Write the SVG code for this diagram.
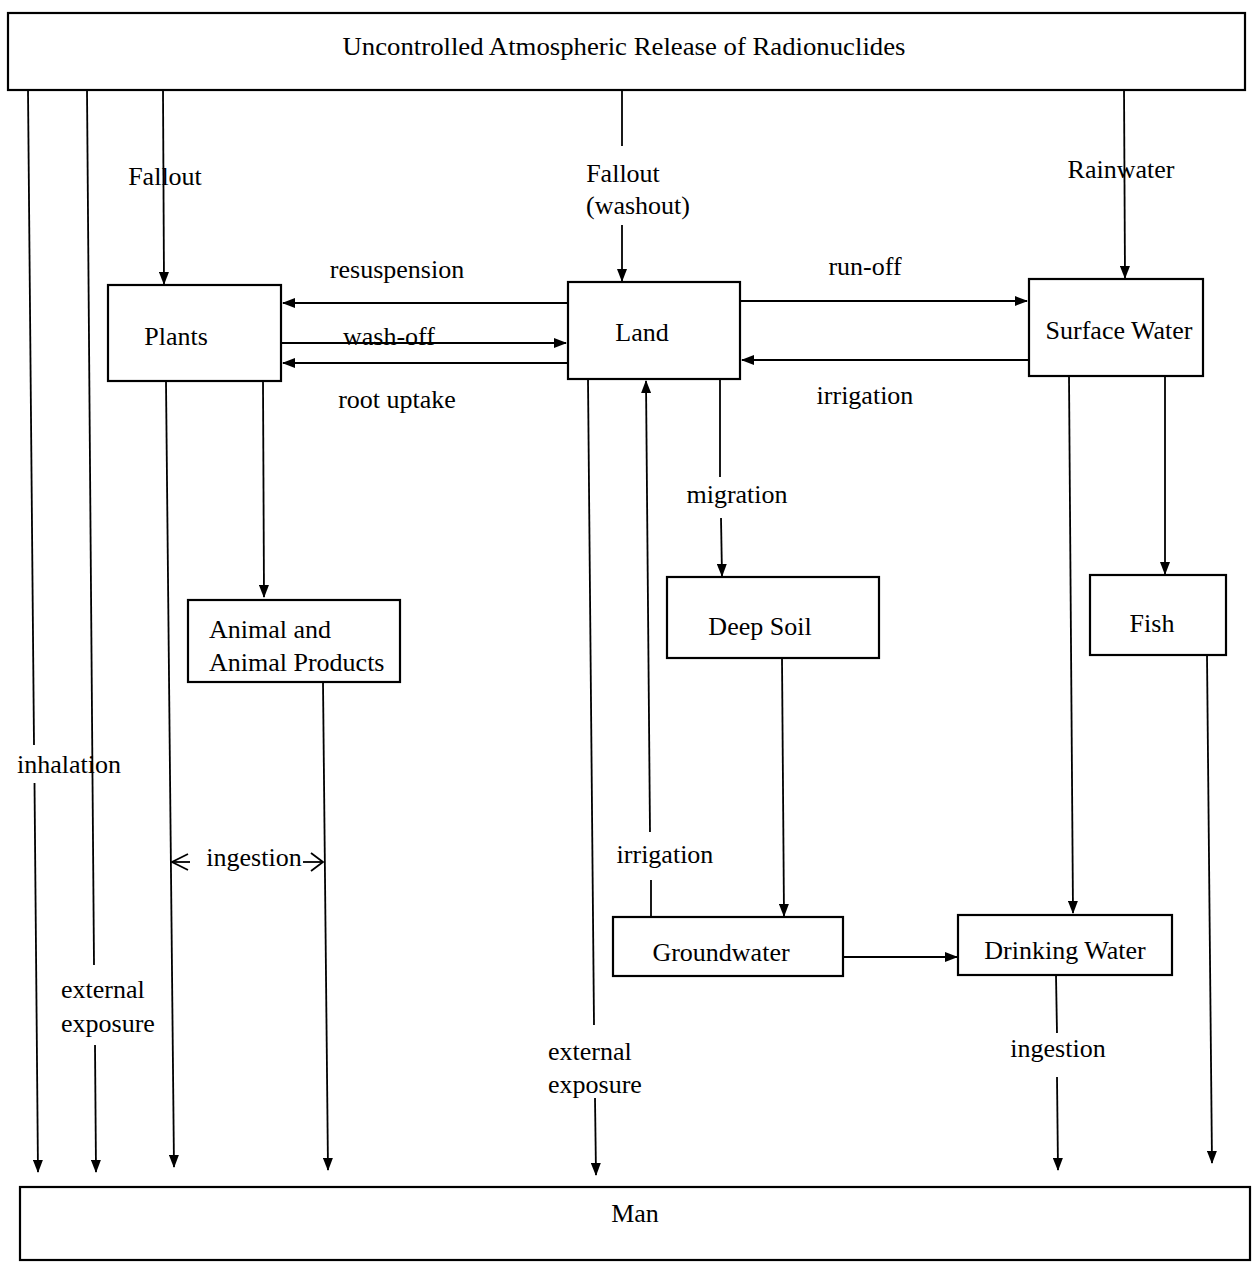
<svg xmlns="http://www.w3.org/2000/svg" width="1252" height="1262" viewBox="0 0 1252 1262">
  <style>
    .box { fill: #ffffff; stroke: #000000; stroke-width: 2.2; }
    .edge { fill: none; stroke: #000000; stroke-width: 1.8; }
    .arr { marker-end: url(#head); }
    text { font-family: "Liberation Serif", "Times New Roman", serif; font-size: 26px; fill: #000000; }
    .c { text-anchor: middle; }
  </style>
  <defs>
    <marker id="head" viewBox="0 0 13 10" refX="12" refY="5" markerWidth="13" markerHeight="10" markerUnits="userSpaceOnUse" orient="auto">
      <path d="M0,0 L13,5 L0,10 Z" fill="#000000"/>
    </marker>
  </defs>

  <rect width="1252" height="1262" fill="#ffffff"/>

  <!-- connectors -->
  <g id="connectors">
    <!-- from the release to man directly -->
    <polyline class="edge" points="28,90 34,745"/>
    <polyline class="edge arr" points="34.5,783 38,1172"/>
    <polyline class="edge" points="87,90 94,965"/>
    <polyline class="edge arr" points="95,1045 96,1172"/>

    <!-- fallout / washout / rainwater -->
    <polyline class="edge arr" points="163,90 164,284"/>
    <polyline class="edge" points="622,90 622,146"/>
    <polyline class="edge arr" points="622,225 622,281"/>
    <polyline class="edge arr" points="1124,86 1125,278"/>

    <!-- plants <-> land -->
    <polyline class="edge arr" points="567,303 283,303"/>
    <polyline class="edge arr" points="282,343 566,343"/>
    <polyline class="edge arr" points="567,363 283,363"/>

    <!-- land <-> surface water -->
    <polyline class="edge arr" points="740,301 1027,301"/>
    <polyline class="edge arr" points="1028,360 742,360"/>

    <!-- plants down -->
    <polyline class="edge arr" points="166,382 174,1167"/>
    <polyline class="edge arr" points="263,382 264,597"/>
    <polyline class="edge arr" points="323,682 328,1170"/>

    <!-- ingestion markers between the plant and animal lines -->
    <polyline class="edge" points="188,854 172,862 188,870"/>
    <polyline class="edge" points="172,862 190,862"/>
    <polyline class="edge" points="303,862 322,862"/>
    <polyline class="edge" points="311,853 323,862 311,871"/>

    <!-- land down -->
    <polyline class="edge" points="588,379 594,1025"/>
    <polyline class="edge arr" points="595,1098 596,1175"/>
    <polyline class="edge" points="720,379 720,477"/>
    <polyline class="edge arr" points="721,518 722,576"/>

    <!-- irrigation from groundwater up to land -->
    <polyline class="edge" points="651,916 651,880"/>
    <polyline class="edge arr" points="650,832 646,381"/>

    <!-- deep soil to groundwater -->
    <polyline class="edge arr" points="782,658 784,916"/>

    <!-- groundwater to drinking water -->
    <polyline class="edge arr" points="843,957 957,957"/>

    <!-- surface water down -->
    <polyline class="edge arr" points="1069,376 1073,913"/>
    <polyline class="edge arr" points="1165,376 1165,574"/>

    <!-- fish to man -->
    <polyline class="edge arr" points="1207,655 1212,1163"/>

    <!-- drinking water to man -->
    <polyline class="edge" points="1056,975 1057,1033"/>
    <polyline class="edge arr" points="1057,1077 1058,1170"/>
  </g>

  <!-- connector labels -->
  <g id="labels">
    <text class="c" x="165" y="185">Fallout</text>
    <text class="c" x="623" y="182">Fallout</text>
    <text class="c" x="638" y="214">(washout)</text>
    <text class="c" x="1121" y="178">Rainwater</text>
    <text class="c" x="397" y="278">resuspension</text>
    <text class="c" x="389" y="345">wash-off</text>
    <text class="c" x="397" y="408">root uptake</text>
    <text class="c" x="865" y="275">run-off</text>
    <text class="c" x="865" y="404">irrigation</text>
    <text class="c" x="737" y="503">migration</text>
    <text x="17" y="773">inhalation</text>
    <text class="c" x="254" y="866">ingestion</text>
    <text class="c" x="665" y="863">irrigation</text>
    <text x="61" y="998">external</text>
    <text x="61" y="1032">exposure</text>
    <text x="548" y="1060">external</text>
    <text x="548" y="1093">exposure</text>
    <text class="c" x="1058" y="1057">ingestion</text>
  </g>

  <!-- nodes -->
  <g id="release">
    <rect class="box" x="8" y="13" width="1237" height="77"/>
    <text class="c" x="624" y="55" textLength="563" lengthAdjust="spacingAndGlyphs">Uncontrolled Atmospheric Release of Radionuclides</text>
  </g>
  <g id="plants">
    <rect class="box" x="108" y="285" width="173" height="96"/>
    <text class="c" x="176" y="345">Plants</text>
  </g>
  <g id="land">
    <rect class="box" x="568" y="282" width="172" height="97"/>
    <text class="c" x="642" y="341">Land</text>
  </g>
  <g id="surface-water">
    <rect class="box" x="1029" y="279" width="174" height="97"/>
    <text class="c" x="1119" y="339">Surface Water</text>
  </g>
  <g id="animal">
    <rect class="box" x="188" y="600" width="212" height="82"/>
    <text x="209" y="638">Animal and</text>
    <text x="209" y="671">Animal Products</text>
  </g>
  <g id="deep-soil">
    <rect class="box" x="667" y="577" width="212" height="81"/>
    <text class="c" x="760" y="635">Deep Soil</text>
  </g>
  <g id="fish">
    <rect class="box" x="1090" y="575" width="136" height="80"/>
    <text class="c" x="1152" y="632">Fish</text>
  </g>
  <g id="groundwater">
    <rect class="box" x="613" y="917" width="230" height="59"/>
    <text class="c" x="721" y="961">Groundwater</text>
  </g>
  <g id="drinking-water">
    <rect class="box" x="958" y="915" width="214" height="60"/>
    <text class="c" x="1065" y="959">Drinking Water</text>
  </g>
  <g id="man">
    <rect class="box" x="20" y="1187" width="1230" height="73"/>
    <text class="c" x="635" y="1222">Man</text>
  </g>
</svg>
